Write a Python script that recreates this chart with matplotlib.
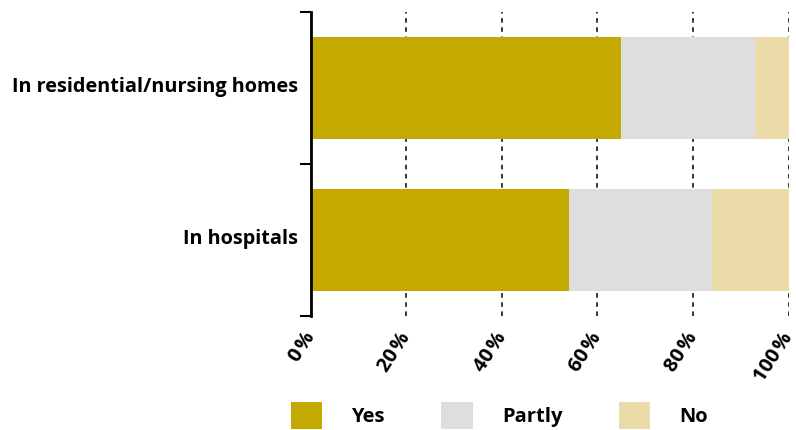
import matplotlib

matplotlib.use("Agg")
import matplotlib.pyplot as plt
import numpy as np
from matplotlib.patches import Patch
from matplotlib.ticker import FixedLocator, FuncFormatter

plt.rcParams["font.family"] = ["Open Sans", "DejaVu Sans"]
plt.rcParams["font.weight"] = "bold"

categories = ["In residential/nursing homes", "In hospitals"]
series_names = ["Yes", "Partly", "No"]
yes = [65, 54]
partly = [28, 30]
no = [7, 16]
colors = ["#C4A900", "#DEDEDE", "#EBDBA9"]
x_ticks = [0, 20, 40, 60, 80, 100]


def main() -> None:
    fig = plt.figure(figsize=(7.96, 4.30), dpi=100)
    ax = fig.add_axes([0.3903, 0.265, 0.6005, 0.7078])

    y = np.arange(len(categories))
    left = np.zeros(len(categories))
    for values, color in zip([yes, partly, no], colors):
        ax.barh(y, values, left=left, height=0.67, color=color, zorder=2)
        left += np.array(values)

    ax.set_xlim(0, 100)
    ax.set_ylim(1.5, -0.5)

    # dashed vertical grid, not at 0
    for xv in x_ticks[1:]:
        ax.axvline(xv, color="black", linestyle=(0, (3, 3)), linewidth=1.1, zorder=1)

    ax.xaxis.set_major_locator(FixedLocator(x_ticks))
    ax.xaxis.set_major_formatter(FuncFormatter(lambda v, _: f"{v:.0f}\u200a%"))
    ax.tick_params(axis="x", length=0, pad=13, labelsize=14.5)
    for lab in ax.get_xticklabels():
        lab.set_rotation(57)
        lab.set_rotation_mode("anchor")
        lab.set_ha("right")
        lab.set_va("center")
        lab.set_fontweight("bold")

    # category boundaries as major ticks, labels on minor ticks
    ax.set_yticks([-0.5, 0.5, 1.5])
    ax.set_yticklabels([])
    ax.set_yticks(y - 0.02, minor=True)
    ax.set_yticklabels(categories, minor=True, fontsize=14.3, fontweight="bold")
    ax.tick_params(axis="y", which="major", length=8, width=1.5, color="black")
    ax.tick_params(axis="y", which="minor", length=0, pad=9)

    for side in ["top", "right", "bottom"]:
        ax.spines[side].set_visible(False)
    ax.spines["left"].set_linewidth(2)
    ax.spines["left"].set_zorder(3)

    handles = [Patch(facecolor=c, edgecolor="none") for c in colors]
    fig.legend(
        handles,
        series_names,
        loc="lower left",
        bbox_to_anchor=(0.353, -0.022),
        ncol=3,
        frameon=False,
        prop={"size": 14.5, "weight": "bold"},
        handlelength=1.55,
        handleheight=1.75,
        handletextpad=1.45,
        columnspacing=2.8,
        borderpad=0.0,
    )

    fig.savefig("out.png", dpi=100)


if __name__ == "__main__":
    main()
